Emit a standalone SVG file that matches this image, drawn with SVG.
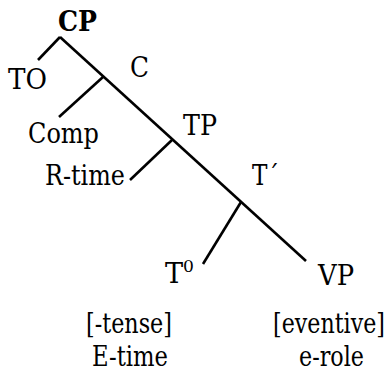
<svg xmlns="http://www.w3.org/2000/svg" width="392" height="374" viewBox="0 0 392 374">
  <style>
    .lbl { font-family: 'DejaVu Serif', 'Liberation Serif', serif; font-size: 27px; fill: #000; }
    .head { font-weight: bold; }
    .sup { font-size: 17px; }
    .end { text-anchor: end; }
    .edge { stroke: #000; stroke-width: 2.6; stroke-linecap: butt; fill: none; }
  </style>
  <rect width="392" height="374" fill="#fff"/>
  <!-- tree branches -->
  <g id="connectors">
    <line class="edge" x1="60" y1="37" x2="38" y2="60"/>
    <line class="edge" x1="60" y1="37" x2="306" y2="261"/>
    <line class="edge" x1="103" y1="77" x2="59" y2="117"/>
    <line class="edge" x1="172" y1="140" x2="130" y2="180"/>
    <line class="edge" x1="241" y1="202" x2="203" y2="264"/>
  </g>
  <!-- node labels: widths fixed so each word keeps its place -->
  <g id="node-CP"><text class="lbl head" x="58" y="31" textLength="39" lengthAdjust="spacingAndGlyphs">CP</text></g>
  <g id="node-TO"><text class="lbl" x="8" y="89" textLength="39" lengthAdjust="spacingAndGlyphs">TO</text></g>
  <g id="node-C"><text class="lbl" x="130" y="77" textLength="19" lengthAdjust="spacingAndGlyphs">C</text></g>
  <g id="node-Comp"><text class="lbl" x="28" y="143" textLength="71" lengthAdjust="spacingAndGlyphs">Comp</text></g>
  <g id="node-TP"><text class="lbl" x="183" y="135" textLength="34" lengthAdjust="spacingAndGlyphs">TP</text></g>
  <g id="node-Rtime"><text class="lbl" x="45" y="185" textLength="80" lengthAdjust="spacingAndGlyphs">R-time</text></g>
  <g id="node-Tbar"><text class="lbl" x="252" y="185" textLength="27" lengthAdjust="spacingAndGlyphs">T´</text></g>
  <g id="node-T0"><text class="lbl" x="165" y="283" textLength="29" lengthAdjust="spacingAndGlyphs">T<tspan class="sup" dy="-11">0</tspan></text></g>
  <g id="node-VP"><text class="lbl" x="318" y="285" textLength="36" lengthAdjust="spacingAndGlyphs">VP</text></g>
  <!-- feature annotations under T0 and VP -->
  <g id="feature-T0">
    <text class="lbl" x="86" y="333" textLength="86" lengthAdjust="spacingAndGlyphs">[-tense]</text>
    <text class="lbl" x="92" y="366" textLength="76" lengthAdjust="spacingAndGlyphs">E-time</text>
  </g>
  <g id="feature-VP">
    <text class="lbl end" x="385" y="333" textLength="112" lengthAdjust="spacingAndGlyphs">[eventive]</text>
    <text class="lbl end" x="364" y="366" textLength="65" lengthAdjust="spacingAndGlyphs">e-role</text>
  </g>
</svg>
